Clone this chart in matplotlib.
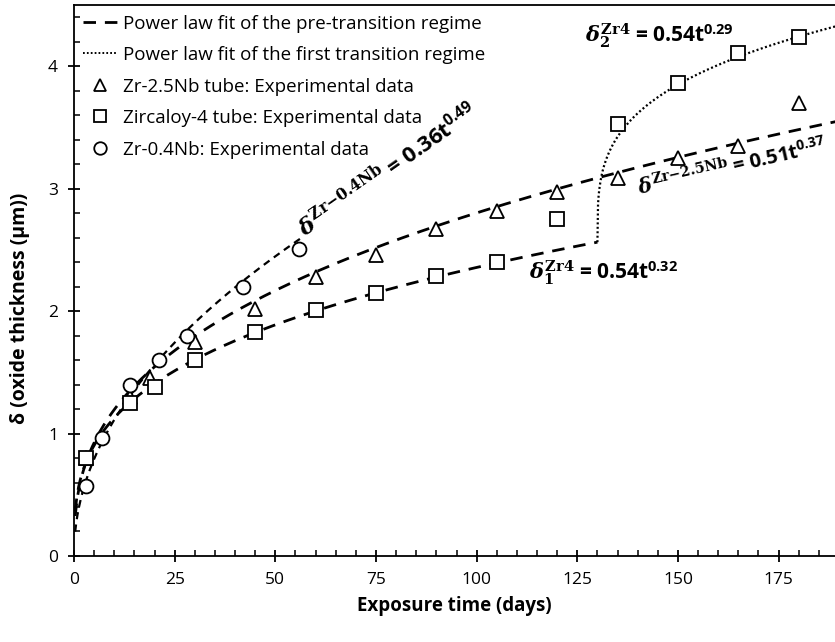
import numpy as np
import matplotlib
matplotlib.use("Agg")
import matplotlib.pyplot as plt
from matplotlib.lines import Line2D
from matplotlib.ticker import MultipleLocator

plt.rcParams['font.family'] = ['Open Sans', 'DejaVu Sans']
plt.rcParams['mathtext.fontset'] = 'custom'
plt.rcParams['mathtext.rm'] = 'DejaVu Serif:bold'
plt.rcParams['mathtext.it'] = 'DejaVu Serif:italic:bold'
plt.rcParams['mathtext.bf'] = 'Open Sans:bold'

# experimental data (days, um)
t_nb25 = [3, 14, 19, 30, 45, 60, 75, 90, 105, 120, 135, 150, 165, 180]
d_nb25 = [0.80, 1.30, 1.45, 1.75, 2.02, 2.28, 2.46, 2.67, 2.82, 2.97, 3.09, 3.25, 3.35, 3.70]

t_zr4 = [3, 14, 20, 30, 45, 60, 75, 90, 105, 120, 135, 150, 165, 180]
d_zr4 = [0.80, 1.25, 1.38, 1.60, 1.83, 2.01, 2.15, 2.29, 2.40, 2.75, 3.53, 3.86, 4.11, 4.24]

t_nb04 = [3, 7, 14, 21, 28, 42, 56]
d_nb04 = [0.57, 0.96, 1.40, 1.60, 1.80, 2.20, 2.51]

# power law fits  delta = a * t^n
fit_nb04 = (0.36, 0.49)
fit_nb25 = (0.51, 0.37)
fit_zr4_pre = (0.54, 0.32)
fit_zr4_post = (0.54, 0.29)
t_transition = 130

fig = plt.figure(figsize=(8.35, 6.42), dpi=100)
ax = fig.add_axes([0.0886, 0.134, 0.9114, 0.858])

t1 = np.linspace(0.3, 57, 200)
ax.plot(t1, fit_nb04[0] * t1 ** fit_nb04[1], color='black', lw=1.6, dashes=(3.2, 2.4))

t2 = np.linspace(0.3, 190, 400)
ax.plot(t2, fit_nb25[0] * t2 ** fit_nb25[1], color='black', lw=2.0, dashes=(4.5, 3.2))

t3 = np.linspace(0.3, t_transition, 300)
d3 = fit_zr4_pre[0] * t3 ** fit_zr4_pre[1]
ax.plot(t3, d3, color='black', lw=2.0, dashes=(4.5, 3.2))

# first transition: shifted power law starting from the end of the pre-transition fit
t4 = np.linspace(0, 190 - t_transition, 400)
d4 = d3[-1] + fit_zr4_post[0] * t4 ** fit_zr4_post[1]
ax.plot(t4 + t_transition, d4, color='black', lw=1.6, dashes=(0.9, 1.1))

mk = dict(ls='none', mfc='white', mec='black', mew=1.3, zorder=5)
ax.plot(t_nb25, d_nb25, marker='^', ms=10, **mk)
ax.plot(t_zr4, d_zr4, marker='s', ms=9.5, **mk)
ax.plot(t_nb04, d_nb04, marker='o', ms=10, **mk)

ax.set_xlim(0, 189)
ax.set_ylim(0, 4.5)
ax.xaxis.set_major_locator(MultipleLocator(25))
ax.xaxis.set_minor_locator(MultipleLocator(5))
ax.yaxis.set_major_locator(MultipleLocator(1))
ax.yaxis.set_minor_locator(MultipleLocator(0.2))
ax.tick_params(which='major', direction='inout', length=9, width=1.3, labelsize=12.5, pad=7)
ax.tick_params(which='minor', direction='in', length=4, width=1.1)
ax.spines['right'].set_visible(False)
for s in ['left', 'bottom', 'top']:
    ax.spines[s].set_linewidth(1.3)

ax.set_xlabel('Exposure time (days)', fontsize=13.5, fontweight='bold', labelpad=6)
ax.set_ylabel('δ (oxide thickness (µm))', fontsize=14, fontweight='bold')
ax.yaxis.set_label_coords(-0.058, 0.45)

handles = [
    Line2D([], [], color='black', lw=2.0, dashes=(4.5, 3.2)),
    Line2D([], [], color='black', lw=1.4, dashes=(0.9, 1.1)),
    Line2D([], [], marker='^', ms=9, **mk),
    Line2D([], [], marker='s', ms=8.5, **mk),
    Line2D([], [], marker='o', ms=9, **mk),
]
labels = ['Power law fit of the pre-transition regime',
          'Power law fit of the first transition regime',
          'Zr-2.5Nb tube: Experimental data',
          'Zircaloy-4 tube: Experimental data',
          'Zr-0.4Nb: Experimental data']
ax.legend(handles, labels, loc='upper left', frameon=False, fontsize=13.5,
          handlelength=1.8, handletextpad=0.3, labelspacing=0.72,
          borderaxespad=0.1, bbox_to_anchor=(0.0, 1.0))

ax.text(57.5, 2.6, r'$\delta^{\mathrm{Zr{-}0.4Nb}}$ = 0.36t$^{\mathbf{0.49}}$',
        fontsize=16, fontweight='bold', rotation=35, rotation_mode='anchor',
        ha='left', va='baseline')
ax.text(140.5, 2.95, r'$\delta^{\mathrm{Zr{-}2.5Nb}}$ = 0.51t$^{\mathbf{0.37}}$',
        fontsize=14.5, fontweight='bold', rotation=13, rotation_mode='anchor',
        ha='left', va='baseline')
ax.text(113, 2.26, r'$\delta_{\mathrm{1}}^{\mathrm{Zr4}}$ = 0.54t$^{\mathbf{0.32}}$',
        fontsize=15, fontweight='bold', ha='left', va='baseline')
ax.text(127, 4.2, r'$\delta_{\mathrm{2}}^{\mathrm{Zr4}}$ = 0.54t$^{\mathbf{0.29}}$',
        fontsize=15, fontweight='bold', ha='left', va='baseline')

fig.savefig('out.png', dpi=100)
